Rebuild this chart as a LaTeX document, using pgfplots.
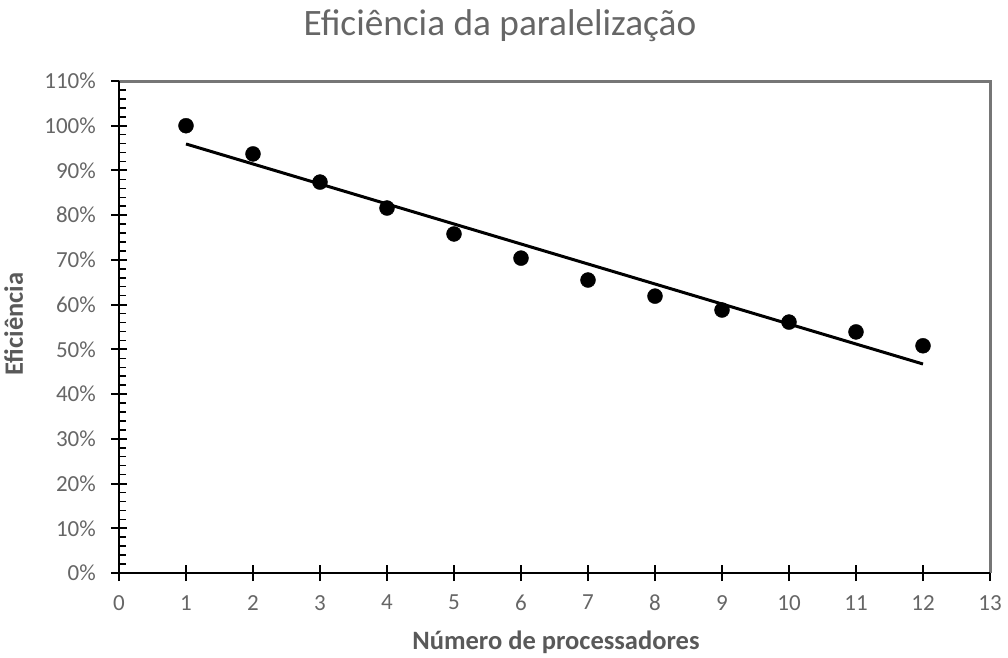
\documentclass[border=0pt]{standalone}
\usepackage{fontspec}
\setmainfont{Carlito}
\usepackage{pgfplots}
\usepackage{pgfplotstable}
\pgfplotsset{compat=1.18}

\definecolor{txtgray}{RGB}{102,102,102}
\definecolor{lblgray}{RGB}{89,89,89}
\definecolor{boxgray}{RGB}{118,118,118}

\pgfplotstableread{
x y
1 100.0
2 93.7
3 87.4
4 81.6
5 75.8
6 70.4
7 65.5
8 61.9
9 58.8
10 56.1
11 53.9
12 50.8
}\effdata

\begin{document}
\begin{tikzpicture}
\begin{axis}[
    at={(0,0)}, anchor=south west,
    scale only axis,
    width=871pt, height=492pt,
    xmin=0, xmax=13, ymin=0, ymax=110,
    xtick={0,1,...,13},
    ytick={0,10,...,110},
    minor y tick num=4,
    xtick pos=left, ytick pos=left,
    tick align=center,
    major tick length=16pt,
    minor tick length=7pt,
    every tick/.style={black, line width=2pt},
    minor y tick style={xshift=3.5pt, line width=1.5pt},
    axis line style={draw=none},
    /pgf/number format/assume math mode=true,
    tick label style={font=\fontsize{23}{27}\selectfont, text=txtgray, inner sep=0pt},
    yticklabel={\pgfmathprintnumber{\tick}\%},
    yticklabel style={anchor=east, xshift=-15pt},
    xticklabel style={anchor=north, yshift=-14pt},
    title={Eficiência da paralelização},
    title style={font=\fontsize{37.3}{42}\selectfont, text=txtgray, anchor=base, inner sep=0pt,
        at={([xshift=-54.5pt, yshift=39pt]axis description cs:0.5,1)}},
    xlabel={Número de processadores},
    xlabel style={font=\fontsize{26.5}{30}\selectfont\bfseries, text=lblgray, anchor=base, inner sep=0pt,
        at={([xshift=1.5pt, yshift=-76pt]axis description cs:0.5,0)}},
    ylabel={Eficiência},
    ylabel style={font=\fontsize{26.5}{30}\selectfont\bfseries, text=lblgray, anchor=base, inner sep=0pt,
        at={([xshift=-96pt, yshift=3pt]axis description cs:0,0.5)}},
    clip=false,
]
\draw[boxgray, line width=3pt] (rel axis cs:0,1) -- (rel axis cs:1,1) -- (rel axis cs:1,0);
\draw[black, line width=2.5pt] (rel axis cs:0,1) -- (rel axis cs:0,0) -- (rel axis cs:1,0);
\addplot[only marks, mark=*, mark size=7.5pt, black] table[x=x, y=y] {\effdata};
\addplot[no marks, black, line width=3pt] table[x=x, y={create col/linear regression={y=y}}] {\effdata};
\end{axis}
\pgfresetboundingbox
\useasboundingbox (-119pt,-84pt) rectangle (889pt,573pt);
\end{tikzpicture}
\end{document}
